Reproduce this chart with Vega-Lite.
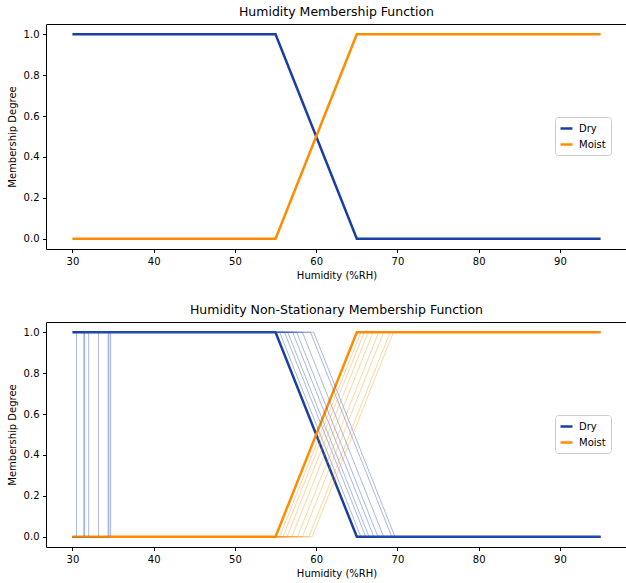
{
  "$schema": "https://vega.github.io/schema/vega-lite/v6.json",
  "autosize": {"type": "pad"},
  "padding": {"left": 6, "top": 5, "right": 0, "bottom": 0},
  "background": "white",
  "config": {
    "font": "DejaVu Sans",
    "view": {"stroke": "black", "strokeWidth": 1},
    "axis": {"domain": false, "grid": false, "tickColor": "black", "tickSize": 3.5, "labelPadding": 3.5, "labelFontSize": 10, "labelColor": "black", "titleFontSize": 10, "titleFontWeight": "normal", "titleColor": "black", "labelFont": "DejaVu Sans", "titleFont": "DejaVu Sans"},
    "title": {"fontSize": 12.5, "fontWeight": "normal", "color": "black", "offset": 6, "font": "DejaVu Sans"},
    "legend": {"orient": "none", "legendX": 509, "legendY": 93, "padding": 5, "strokeColor": "#cccccc", "fillColor": "white", "cornerRadius": 3, "labelFontSize": 10, "labelColor": "black", "labelFont": "DejaVu Sans", "labelOffset": 6, "symbolType": "M-1.2,0H1.2", "symbolStrokeWidth": 2.5, "symbolSize": 100, "rowPadding": 4, "title": null}
  },
  "data": {"values": [
    {"panel":"top","kind":"main","series":"Dry","variant":0,"idx":0,"x":30,"y":1},
    {"panel":"top","kind":"main","series":"Dry","variant":0,"idx":1,"x":55,"y":1},
    {"panel":"top","kind":"main","series":"Dry","variant":0,"idx":2,"x":65,"y":0},
    {"panel":"top","kind":"main","series":"Dry","variant":0,"idx":3,"x":95,"y":0},
    {"panel":"top","kind":"main","series":"Moist","variant":0,"idx":0,"x":30,"y":0},
    {"panel":"top","kind":"main","series":"Moist","variant":0,"idx":1,"x":55,"y":0},
    {"panel":"top","kind":"main","series":"Moist","variant":0,"idx":2,"x":65,"y":1},
    {"panel":"top","kind":"main","series":"Moist","variant":0,"idx":3,"x":95,"y":1},
    {"panel":"bottom","kind":"main","series":"Dry","variant":0,"idx":0,"x":30,"y":1},
    {"panel":"bottom","kind":"main","series":"Dry","variant":0,"idx":1,"x":55,"y":1},
    {"panel":"bottom","kind":"main","series":"Dry","variant":0,"idx":2,"x":65,"y":0},
    {"panel":"bottom","kind":"main","series":"Dry","variant":0,"idx":3,"x":95,"y":0},
    {"panel":"bottom","kind":"main","series":"Moist","variant":0,"idx":0,"x":30,"y":0},
    {"panel":"bottom","kind":"main","series":"Moist","variant":0,"idx":1,"x":55,"y":0},
    {"panel":"bottom","kind":"main","series":"Moist","variant":0,"idx":2,"x":65,"y":1},
    {"panel":"bottom","kind":"main","series":"Moist","variant":0,"idx":3,"x":95,"y":1},

    {"panel":"bottom","kind":"thin","series":"Dry","variant":1,"idx":0,"x":30,"y":0},
    {"panel":"bottom","kind":"thin","series":"Dry","variant":1,"idx":1,"x":30.5,"y":0},
    {"panel":"bottom","kind":"thin","series":"Dry","variant":1,"idx":2,"x":30.5,"y":1},
    {"panel":"bottom","kind":"thin","series":"Dry","variant":1,"idx":3,"x":55.5,"y":1},
    {"panel":"bottom","kind":"thin","series":"Dry","variant":1,"idx":4,"x":65.5,"y":0},
    {"panel":"bottom","kind":"thin","series":"Dry","variant":1,"idx":5,"x":95,"y":0},
    {"panel":"bottom","kind":"thin","series":"Dry","variant":2,"idx":0,"x":30,"y":0},
    {"panel":"bottom","kind":"thin","series":"Dry","variant":2,"idx":1,"x":31.4,"y":0},
    {"panel":"bottom","kind":"thin","series":"Dry","variant":2,"idx":2,"x":31.4,"y":1},
    {"panel":"bottom","kind":"thin","series":"Dry","variant":2,"idx":3,"x":56.1,"y":1},
    {"panel":"bottom","kind":"thin","series":"Dry","variant":2,"idx":4,"x":66.1,"y":0},
    {"panel":"bottom","kind":"thin","series":"Dry","variant":2,"idx":5,"x":95,"y":0},
    {"panel":"bottom","kind":"thin","series":"Dry","variant":3,"idx":0,"x":30,"y":0},
    {"panel":"bottom","kind":"thin","series":"Dry","variant":3,"idx":1,"x":31.5,"y":0},
    {"panel":"bottom","kind":"thin","series":"Dry","variant":3,"idx":2,"x":31.5,"y":1},
    {"panel":"bottom","kind":"thin","series":"Dry","variant":3,"idx":3,"x":56.5,"y":1},
    {"panel":"bottom","kind":"thin","series":"Dry","variant":3,"idx":4,"x":66.5,"y":0},
    {"panel":"bottom","kind":"thin","series":"Dry","variant":3,"idx":5,"x":95,"y":0},
    {"panel":"bottom","kind":"thin","series":"Dry","variant":4,"idx":0,"x":30,"y":0},
    {"panel":"bottom","kind":"thin","series":"Dry","variant":4,"idx":1,"x":32.0,"y":0},
    {"panel":"bottom","kind":"thin","series":"Dry","variant":4,"idx":2,"x":32.0,"y":1},
    {"panel":"bottom","kind":"thin","series":"Dry","variant":4,"idx":3,"x":57.1,"y":1},
    {"panel":"bottom","kind":"thin","series":"Dry","variant":4,"idx":4,"x":67.1,"y":0},
    {"panel":"bottom","kind":"thin","series":"Dry","variant":4,"idx":5,"x":95,"y":0},
    {"panel":"bottom","kind":"thin","series":"Dry","variant":5,"idx":0,"x":30,"y":0},
    {"panel":"bottom","kind":"thin","series":"Dry","variant":5,"idx":1,"x":33.2,"y":0},
    {"panel":"bottom","kind":"thin","series":"Dry","variant":5,"idx":2,"x":33.2,"y":1},
    {"panel":"bottom","kind":"thin","series":"Dry","variant":5,"idx":3,"x":57.6,"y":1},
    {"panel":"bottom","kind":"thin","series":"Dry","variant":5,"idx":4,"x":67.6,"y":0},
    {"panel":"bottom","kind":"thin","series":"Dry","variant":5,"idx":5,"x":95,"y":0},
    {"panel":"bottom","kind":"thin","series":"Dry","variant":6,"idx":0,"x":30,"y":0},
    {"panel":"bottom","kind":"thin","series":"Dry","variant":6,"idx":1,"x":34.4,"y":0},
    {"panel":"bottom","kind":"thin","series":"Dry","variant":6,"idx":2,"x":34.4,"y":1},
    {"panel":"bottom","kind":"thin","series":"Dry","variant":6,"idx":3,"x":58.3,"y":1},
    {"panel":"bottom","kind":"thin","series":"Dry","variant":6,"idx":4,"x":68.3,"y":0},
    {"panel":"bottom","kind":"thin","series":"Dry","variant":6,"idx":5,"x":95,"y":0},
    {"panel":"bottom","kind":"thin","series":"Dry","variant":7,"idx":0,"x":30,"y":0},
    {"panel":"bottom","kind":"thin","series":"Dry","variant":7,"idx":1,"x":34.5,"y":0},
    {"panel":"bottom","kind":"thin","series":"Dry","variant":7,"idx":2,"x":34.5,"y":1},
    {"panel":"bottom","kind":"thin","series":"Dry","variant":7,"idx":3,"x":59.3,"y":1},
    {"panel":"bottom","kind":"thin","series":"Dry","variant":7,"idx":4,"x":69.3,"y":0},
    {"panel":"bottom","kind":"thin","series":"Dry","variant":7,"idx":5,"x":95,"y":0},
    {"panel":"bottom","kind":"thin","series":"Dry","variant":8,"idx":0,"x":30,"y":0},
    {"panel":"bottom","kind":"thin","series":"Dry","variant":8,"idx":1,"x":34.7,"y":0},
    {"panel":"bottom","kind":"thin","series":"Dry","variant":8,"idx":2,"x":34.7,"y":1},
    {"panel":"bottom","kind":"thin","series":"Dry","variant":8,"idx":3,"x":59.7,"y":1},
    {"panel":"bottom","kind":"thin","series":"Dry","variant":8,"idx":4,"x":69.7,"y":0},
    {"panel":"bottom","kind":"thin","series":"Dry","variant":8,"idx":5,"x":95,"y":0},

    {"panel":"bottom","kind":"thin","series":"Moist","variant":1,"idx":0,"x":30,"y":0},
    {"panel":"bottom","kind":"thin","series":"Moist","variant":1,"idx":1,"x":55.5,"y":0},
    {"panel":"bottom","kind":"thin","series":"Moist","variant":1,"idx":2,"x":65.5,"y":1},
    {"panel":"bottom","kind":"thin","series":"Moist","variant":1,"idx":3,"x":95,"y":1},
    {"panel":"bottom","kind":"thin","series":"Moist","variant":2,"idx":0,"x":30,"y":0},
    {"panel":"bottom","kind":"thin","series":"Moist","variant":2,"idx":1,"x":55.9,"y":0},
    {"panel":"bottom","kind":"thin","series":"Moist","variant":2,"idx":2,"x":65.9,"y":1},
    {"panel":"bottom","kind":"thin","series":"Moist","variant":2,"idx":3,"x":95,"y":1},
    {"panel":"bottom","kind":"thin","series":"Moist","variant":3,"idx":0,"x":30,"y":0},
    {"panel":"bottom","kind":"thin","series":"Moist","variant":3,"idx":1,"x":56.4,"y":0},
    {"panel":"bottom","kind":"thin","series":"Moist","variant":3,"idx":2,"x":66.4,"y":1},
    {"panel":"bottom","kind":"thin","series":"Moist","variant":3,"idx":3,"x":95,"y":1},
    {"panel":"bottom","kind":"thin","series":"Moist","variant":4,"idx":0,"x":30,"y":0},
    {"panel":"bottom","kind":"thin","series":"Moist","variant":4,"idx":1,"x":57.0,"y":0},
    {"panel":"bottom","kind":"thin","series":"Moist","variant":4,"idx":2,"x":67.0,"y":1},
    {"panel":"bottom","kind":"thin","series":"Moist","variant":4,"idx":3,"x":95,"y":1},
    {"panel":"bottom","kind":"thin","series":"Moist","variant":5,"idx":0,"x":30,"y":0},
    {"panel":"bottom","kind":"thin","series":"Moist","variant":5,"idx":1,"x":57.7,"y":0},
    {"panel":"bottom","kind":"thin","series":"Moist","variant":5,"idx":2,"x":67.7,"y":1},
    {"panel":"bottom","kind":"thin","series":"Moist","variant":5,"idx":3,"x":95,"y":1},
    {"panel":"bottom","kind":"thin","series":"Moist","variant":6,"idx":0,"x":30,"y":0},
    {"panel":"bottom","kind":"thin","series":"Moist","variant":6,"idx":1,"x":58.3,"y":0},
    {"panel":"bottom","kind":"thin","series":"Moist","variant":6,"idx":2,"x":68.3,"y":1},
    {"panel":"bottom","kind":"thin","series":"Moist","variant":6,"idx":3,"x":95,"y":1},
    {"panel":"bottom","kind":"thin","series":"Moist","variant":7,"idx":0,"x":30,"y":0},
    {"panel":"bottom","kind":"thin","series":"Moist","variant":7,"idx":1,"x":59.1,"y":0},
    {"panel":"bottom","kind":"thin","series":"Moist","variant":7,"idx":2,"x":69.1,"y":1},
    {"panel":"bottom","kind":"thin","series":"Moist","variant":7,"idx":3,"x":95,"y":1},
    {"panel":"bottom","kind":"thin","series":"Moist","variant":8,"idx":0,"x":30,"y":0},
    {"panel":"bottom","kind":"thin","series":"Moist","variant":8,"idx":1,"x":59.5,"y":0},
    {"panel":"bottom","kind":"thin","series":"Moist","variant":8,"idx":2,"x":69.5,"y":1},
    {"panel":"bottom","kind":"thin","series":"Moist","variant":8,"idx":3,"x":95,"y":1}
  ]},
  "bounds": "flush",
  "spacing": 73,
  "resolve": {"scale": {"color": "independent"}, "legend": {"color": "independent"}},
  "vconcat": [
    {
      "width": 581,
      "height": 225,
      "title": "Humidity Membership Function",
      "transform": [{"filter": "datum.panel === 'top'"}],
      "mark": {"type": "line", "strokeWidth": 2.5, "clip": true},
      "encoding": {
        "x": {"field": "x", "type": "quantitative", "scale": {"domain": [26.75, 98.25], "nice": false, "zero": false}, "axis": {"values": [30, 40, 50, 60, 70, 80, 90], "format": "d", "title": "Humidity (%RH)", "titlePadding": 4}},
        "y": {"field": "y", "type": "quantitative", "scale": {"domain": [-0.05, 1.05], "nice": false}, "axis": {"values": [0, 0.2, 0.4, 0.6, 0.8, 1.0], "format": ".1f", "title": "Membership Degree", "titlePadding": 6}},
        "color": {"field": "series", "type": "nominal", "scale": {"domain": ["Dry", "Moist"], "range": ["#1a3fa3", "#ff8c00"]}},
        "detail": {"field": "variant", "type": "nominal"},
        "order": {"field": "idx", "type": "quantitative"}
      }
    },
    {
      "width": 581,
      "height": 225,
      "title": "Humidity Non-Stationary Membership Function",
      "transform": [{"filter": "datum.panel === 'bottom'"}],
      "encoding": {
        "x": {"field": "x", "type": "quantitative", "scale": {"domain": [26.75, 98.25], "nice": false, "zero": false}, "axis": {"values": [30, 40, 50, 60, 70, 80, 90], "format": "d", "title": "Humidity (%RH)", "titlePadding": 4}},
        "y": {"field": "y", "type": "quantitative", "scale": {"domain": [-0.05, 1.05], "nice": false}, "axis": {"values": [0, 0.2, 0.4, 0.6, 0.8, 1.0], "format": ".1f", "title": "Membership Degree", "titlePadding": 6}},
        "detail": {"field": "variant", "type": "nominal"},
        "order": {"field": "idx", "type": "quantitative"}
      },
      "layer": [
        {
          "transform": [{"filter": "datum.kind === 'main'"}],
          "mark": {"type": "line", "strokeWidth": 2.5, "clip": true},
          "encoding": {
            "color": {"field": "series", "type": "nominal", "scale": {"domain": ["Dry", "Moist"], "range": ["#1a3fa3", "#ff8c00"]}}
          }
        },
        {
          "transform": [{"filter": "datum.kind === 'thin' && datum.series === 'Dry'"}],
          "mark": {"type": "line", "strokeWidth": 0.9, "opacity": 0.45, "color": "#2a50b8", "clip": true}
        },
        {
          "transform": [{"filter": "datum.kind === 'thin' && datum.series === 'Moist'"}],
          "mark": {"type": "line", "strokeWidth": 0.9, "opacity": 0.4, "color": "#ff8c00", "clip": true}
        }
      ]
    }
  ]
}
